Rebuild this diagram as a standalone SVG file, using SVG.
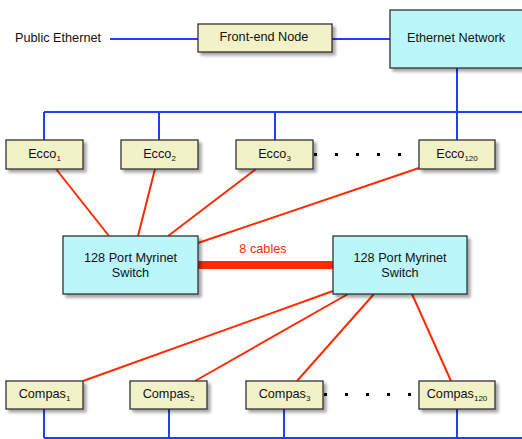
<svg xmlns="http://www.w3.org/2000/svg" width="522" height="439" viewBox="0 0 522 439">
<defs>
<filter id="sh" x="-10%" y="-10%" width="130%" height="140%">
<feDropShadow dx="3" dy="3" stdDeviation="1.5" flood-color="#000" flood-opacity="0.35"/>
</filter>
<style>
text{font-family:"Liberation Sans",Arial,sans-serif;font-size:12.7px;fill:#111}
.c{text-anchor:middle}
.sub{font-size:8px}
.y{fill:#f2f2c8;stroke:#333;stroke-width:1.3;filter:url(#sh)}
.b{fill:#bbf6fb;stroke:#333;stroke-width:1.3;filter:url(#sh)}
.eth{stroke:#1f3fff;stroke-width:2;fill:none}
.myr{stroke:#ff2a00;stroke-width:2;fill:none}
.dot{fill:#000}
</style>
</defs>
<rect width="522" height="439" fill="#fff"/>
<g id="connectors">
<path class="eth" d="M110 39H198M332 39H390M457 68V112M44 112H522M44 112V140M159 112V140M275 112V140M457 112V140"/>
<path class="eth" d="M44 438H522M44 409V438M169 409V438M284 409V438M457 409V438"/>
<path class="myr" d="M56 169L109 236M155 169L138 236M256 169L168 236M419 168L198 243"/>
<path class="myr" d="M83 381L333 291M195 381L348 294M297 381L374 294M451 381L412 294"/>
<path d="M198 265H333" stroke="#ff2a00" stroke-width="8"/>
<text class="c" x="263" y="253" style="fill:#ff2a00">8 cables</text>
</g>
<g id="dots">
<rect class="dot" x="314" y="153" width="3" height="3"/>
<rect class="dot" x="335" y="153" width="3" height="3"/>
<rect class="dot" x="356" y="153" width="3" height="3"/>
<rect class="dot" x="377" y="153" width="3" height="3"/>
<rect class="dot" x="398" y="153" width="3" height="3"/>
<rect class="dot" x="324" y="393" width="3" height="3"/>
<rect class="dot" x="345" y="393" width="3" height="3"/>
<rect class="dot" x="366" y="393" width="3" height="3"/>
<rect class="dot" x="387" y="393" width="3" height="3"/>
<rect class="dot" x="408" y="393" width="3" height="3"/>
</g>
<g id="public"><text x="15" y="42">Public Ethernet</text></g>
<g id="frontend"><rect class="y" x="198" y="24" width="134" height="28"/><text class="c" x="264" y="41">Front-end Node</text></g>
<g id="ethnet"><rect class="b" x="390" y="10" width="140" height="58"/><text class="c" x="456" y="42">Ethernet Network</text></g>
<g id="ecco1"><rect class="y" x="6" y="140" width="77" height="29"/><text class="c" x="44.5" y="158">Ecco<tspan class="sub" dy="3">1</tspan></text></g>
<g id="ecco2"><rect class="y" x="121" y="140" width="77" height="29"/><text class="c" x="159.5" y="158">Ecco<tspan class="sub" dy="3">2</tspan></text></g>
<g id="ecco3"><rect class="y" x="236" y="140" width="77" height="29"/><text class="c" x="274.5" y="158">Ecco<tspan class="sub" dy="3">3</tspan></text></g>
<g id="ecco120"><rect class="y" x="419" y="140" width="76" height="29"/><text class="c" x="457" y="158">Ecco<tspan class="sub" dy="3">120</tspan></text></g>
<g id="switch1"><rect class="b" x="63" y="236" width="135" height="58"/><text class="c" x="130.5" y="262">128 Port Myrinet</text><text class="c" x="130.5" y="277">Switch</text></g>
<g id="switch2"><rect class="b" x="333" y="236" width="134" height="58"/><text class="c" x="400" y="262">128 Port Myrinet</text><text class="c" x="400" y="277">Switch</text></g>
<g id="compas1"><rect class="y" x="6" y="381" width="77" height="28"/><text class="c" x="44.5" y="397.5">Compas<tspan class="sub" dy="3">1</tspan></text></g>
<g id="compas2"><rect class="y" x="130" y="381" width="77" height="28"/><text class="c" x="168.5" y="397.5">Compas<tspan class="sub" dy="3">2</tspan></text></g>
<g id="compas3"><rect class="y" x="246" y="381" width="77" height="28"/><text class="c" x="284.5" y="397.5">Compas<tspan class="sub" dy="3">3</tspan></text></g>
<g id="compas120"><rect class="y" x="419" y="381" width="76" height="28"/><text class="c" x="457" y="397.5">Compas<tspan class="sub" dy="3">120</tspan></text></g>
</svg>
